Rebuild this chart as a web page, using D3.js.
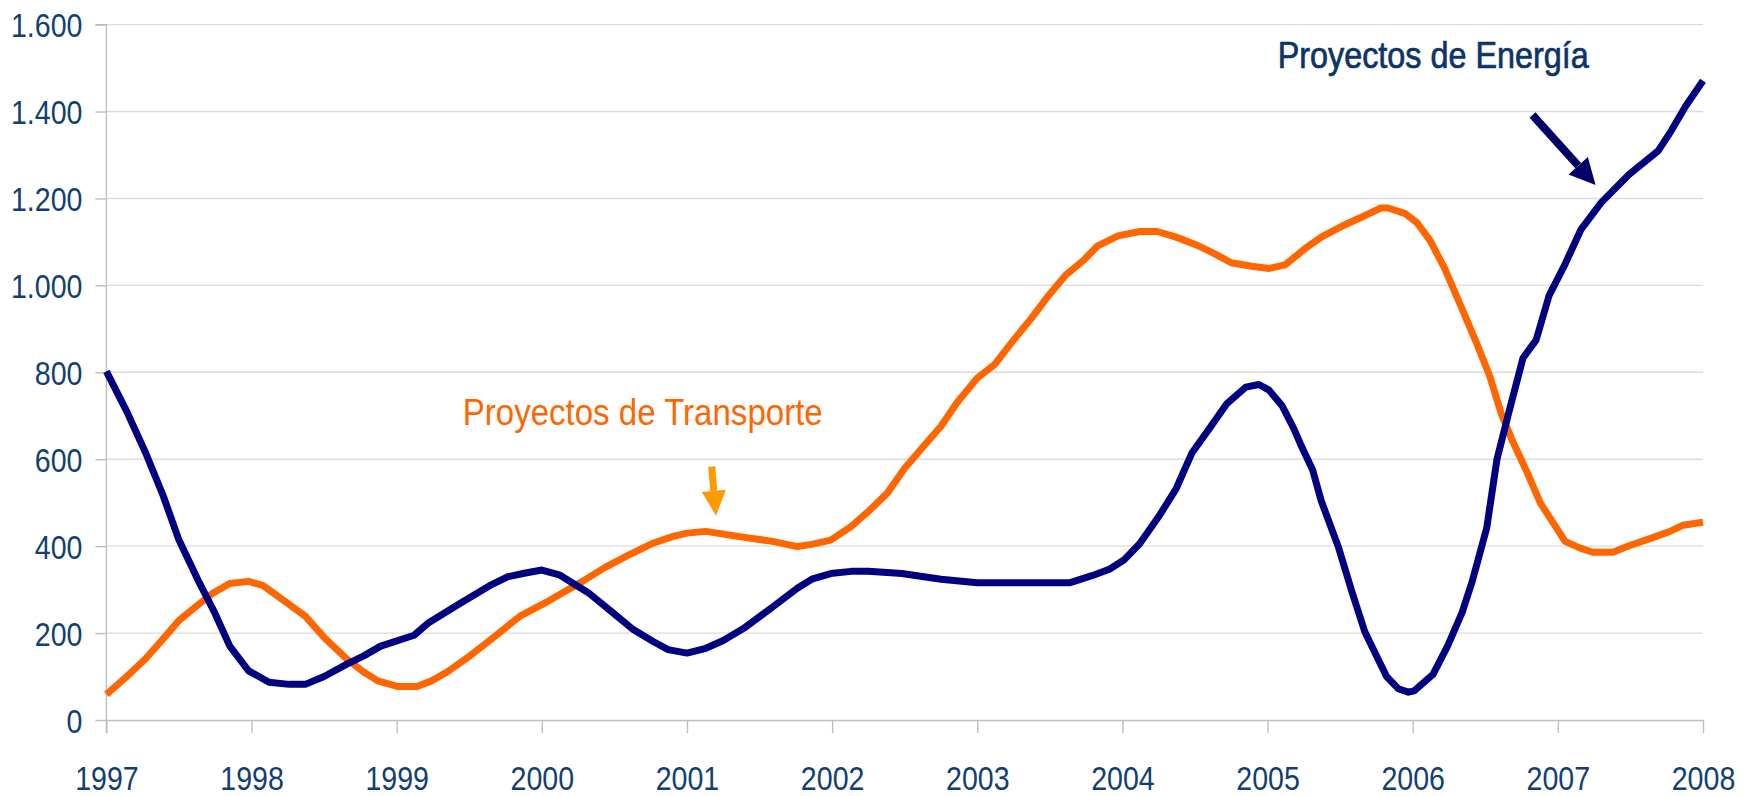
<!DOCTYPE html>
<html>
<head>
<meta charset="utf-8">
<script src="https://cdn.jsdelivr.net/npm/d3@7"></script>
<style>
  body { margin: 0; background: #fff; }
  text { font-family: "Liberation Sans Narrow", "Arial Narrow", "Liberation Sans", sans-serif; }
</style>
</head>
<body>
<div class="chart"></div>
<script>
const w = 1756;
const h = 796;
const margin = {top: 24.6, right: 53, bottom: 76, left: 106.4};

// data (x = fractional year)
const yTicks = [0, 200, 400, 600, 800, 1000, 1200, 1400, 1600];
const xTicks = [1997, 1998, 1999, 2000, 2001, 2002, 2003, 2004, 2005, 2006, 2007, 2008];

const energiaX = [1997.00, 1997.14, 1997.27, 1997.39, 1997.50, 1997.64, 1997.75, 1997.85, 1997.98,
  1998.12, 1998.26, 1998.37, 1998.50, 1998.66, 1998.77, 1998.89, 1999.12, 1999.22, 1999.43,
  1999.64, 1999.76, 1999.87, 2000.00, 2000.12, 2000.32, 2000.50, 2000.63, 2000.77, 2000.87,
  2001.00, 2001.13, 2001.25, 2001.40, 2001.59, 2001.76, 2001.86, 2001.99, 2002.13, 2002.25,
  2002.48, 2002.75, 2003.00, 2003.21, 2003.64, 2003.79, 2003.91, 2004.01, 2004.12, 2004.25,
  2004.37, 2004.48, 2004.60, 2004.72, 2004.85, 2004.94, 2005.01, 2005.10, 2005.18, 2005.24,
  2005.31, 2005.37, 2005.49, 2005.58, 2005.67, 2005.76, 2005.82, 2005.90, 2005.97, 2006.01,
  2006.14, 2006.24, 2006.34, 2006.41, 2006.51, 2006.58, 2006.66, 2006.76, 2006.85, 2006.94,
  2007.05, 2007.16, 2007.30, 2007.49, 2007.69, 2007.78, 2007.88, 2008.00];
const energiaY = [802, 710, 615, 517, 414, 316, 244, 170, 113,
  87, 82, 82, 100, 129, 147, 170, 195, 224, 267,
  309, 329, 337, 345, 334, 293, 244, 208, 180, 162,
  154, 165, 183, 213, 260, 303, 324, 337, 342, 342,
  337, 324, 316, 316, 316, 332, 347, 368, 406, 468,
  532, 615, 671, 728, 766, 772, 759, 723, 671, 625,
  576, 504, 396, 296, 203, 141, 100, 72, 64, 67,
  105, 170, 247, 319, 442, 599, 705, 833, 874, 977,
  1049, 1129, 1191, 1255, 1309, 1355, 1412, 1471];

const transporteX = [1997.00, 1997.14, 1997.27, 1997.40, 1997.50, 1997.62, 1997.73, 1997.85, 1997.98,
  1998.08, 1998.23, 1998.37, 1998.50, 1998.66, 1998.77, 1998.87, 1999.01, 1999.14, 1999.24,
  1999.35, 1999.49, 1999.66, 1999.85, 2000.01, 2000.12, 2000.28, 2000.43, 2000.59, 2000.76,
  2000.90, 2001.00, 2001.13, 2001.36, 2001.59, 2001.76, 2001.86, 2001.99, 2002.13, 2002.26,
  2002.38, 2002.50, 2002.63, 2002.75, 2002.86, 2003.00, 2003.12, 2003.25, 2003.37, 2003.48,
  2003.61, 2003.73, 2003.83, 2003.97, 2004.12, 2004.24, 2004.37, 2004.51, 2004.64, 2004.75,
  2004.89, 2005.01, 2005.12, 2005.26, 2005.37, 2005.53, 2005.68, 2005.78, 2005.83, 2005.95,
  2006.03, 2006.12, 2006.22, 2006.34, 2006.44, 2006.53, 2006.61, 2006.69, 2006.78, 2006.88,
  2006.94, 2007.05, 2007.15, 2007.24, 2007.38, 2007.49, 2007.65, 2007.78, 2007.86, 2008.00];
const transporteY = [59, 100, 141, 190, 229, 262, 291, 314, 319,
  309, 273, 239, 190, 139, 111, 90, 77, 77, 90,
  111, 144, 188, 239, 267, 288, 319, 350, 378, 406,
  422, 430, 434, 422, 411, 399, 404, 414, 445, 483,
  522, 579, 630, 676, 730, 787, 818, 874, 923, 972,
  1024, 1057, 1091, 1114, 1124, 1124, 1111, 1093, 1072, 1052,
  1044, 1039, 1047, 1085, 1111, 1139, 1162, 1178, 1178, 1165,
  1144, 1103, 1039, 946, 867, 792, 705, 640, 576, 499,
  468, 411, 396, 386, 386, 401, 419, 435, 448, 455];

const navy = "#000080";
const orange = "#ff6600";
const labelColor = "#123f73";

const svg = d3.select(".chart")
              .append("svg")
              .attr("width", w)
              .attr("height", h);

const xScale = d3.scaleLinear()
                 .domain([1997, 2008])
                 .range([margin.left, w - margin.right]);

const yScale = d3.scaleLinear()
                 .domain([0, 1600])
                 .range([h - margin.bottom, margin.top]);

const fmt = d3.formatLocale({decimal: ",", thousands: ".", grouping: [3], currency: ["", "€"]}).format(",d");

// squeeze text so it looks like a narrow face
function narrow(sel, k) {
  sel.each(function() {
    const len = this.getComputedTextLength();
    d3.select(this).attr("textLength", len * k).attr("lengthAdjust", "spacingAndGlyphs");
  });
}

// gridlines
svg.append("g")
   .selectAll("line")
   .data(yTicks.filter(d => d > 0))
   .enter()
   .append("line")
   .attr("x1", xScale(1997))
   .attr("x2", xScale(2008))
   .attr("y1", d => yScale(d))
   .attr("y2", d => yScale(d))
   .attr("stroke", "#dcdcdc")
   .attr("stroke-width", 1.4);

const yAxis = d3.axisLeft(yScale).tickValues(yTicks).tickFormat(fmt).tickSize(11).tickPadding(13);
const xAxis = d3.axisBottom(xScale).tickValues(xTicks).tickFormat(d3.format("d")).tickSize(13).tickSizeOuter(0);

const gy = svg.append("g")
   .attr("transform", "translate(" + margin.left + ",0)")
   .call(yAxis);

const gx = svg.append("g")
   .attr("transform", "translate(0," + (h - margin.bottom) + ")")
   .call(xAxis);

[gx, gy].forEach(g => {
  g.select(".domain").attr("stroke", "#bfbfbf").attr("stroke-width", 1.4);
  g.selectAll(".tick line").attr("stroke", "#bfbfbf").attr("stroke-width", 1.4);
  g.selectAll(".tick text")
   .attr("fill", labelColor)
   .style("font-size", "34px")
   .call(narrow, 0.84);
});
gy.select(".domain").attr("d", "M-11," + margin.top + "H0V" + (h - margin.bottom + 13));
gy.selectAll(".tick text").attr("dy", "0.36em");
gx.selectAll(".tick text").attr("y", 70).attr("dy", null);

// series
const line = d3.line()
               .x(d => xScale(d[0]))
               .y(d => yScale(d[1]));

svg.append("path")
   .datum(d3.zip(transporteX, transporteY))
   .attr("d", line)
   .attr("fill", "none")
   .attr("stroke", orange)
   .attr("stroke-width", 7)
   .attr("stroke-linejoin", "round");

svg.append("path")
   .datum(d3.zip(energiaX, energiaY))
   .attr("d", line)
   .attr("fill", "none")
   .attr("stroke", navy)
   .attr("stroke-width", 7)
   .attr("stroke-linejoin", "round");

// annotations
function arrow(from, to, color, width, headLen, headHalf) {
  const x1 = xScale(from[0]), y1 = yScale(from[1]);
  const x2 = xScale(to[0]), y2 = yScale(to[1]);
  const a = Math.atan2(y2 - y1, x2 - x1);
  const bx = x2 - headLen * Math.cos(a), by = y2 - headLen * Math.sin(a);
  svg.append("line")
     .attr("x1", x1).attr("y1", y1)
     .attr("x2", bx).attr("y2", by)
     .attr("stroke", color)
     .attr("stroke-width", width);
  const px = -Math.sin(a) * headHalf, py = Math.cos(a) * headHalf;
  svg.append("path")
     .attr("d", "M" + x2 + "," + y2 + "L" + (bx + px) + "," + (by + py) + "L" + (bx - px) + "," + (by - py) + "Z")
     .attr("fill", color);
}

arrow([2006.825, 1392], [2007.26, 1231], "#000066", 8, 26, 13);
arrow([2001.17, 583], [2001.20, 470], "#ff9900", 7, 25, 12);

svg.append("text")
   .attr("x", xScale(2005.07))
   .attr("y", yScale(1500))
   .attr("fill", "#0d3466")
   .attr("stroke", "#0d3466")
   .attr("stroke-width", 0.7)
   .attr("textLength", 311)
   .attr("lengthAdjust", "spacingAndGlyphs")
   .style("font-size", "36px")
   .text("Proyectos de Energía");

svg.append("text")
   .attr("x", xScale(1999.455))
   .attr("y", yScale(679))
   .attr("fill", orange)
   .attr("textLength", 360)
   .attr("lengthAdjust", "spacingAndGlyphs")
   .style("font-size", "37px")
   .text("Proyectos de Transporte");
</script>
</body>
</html>
